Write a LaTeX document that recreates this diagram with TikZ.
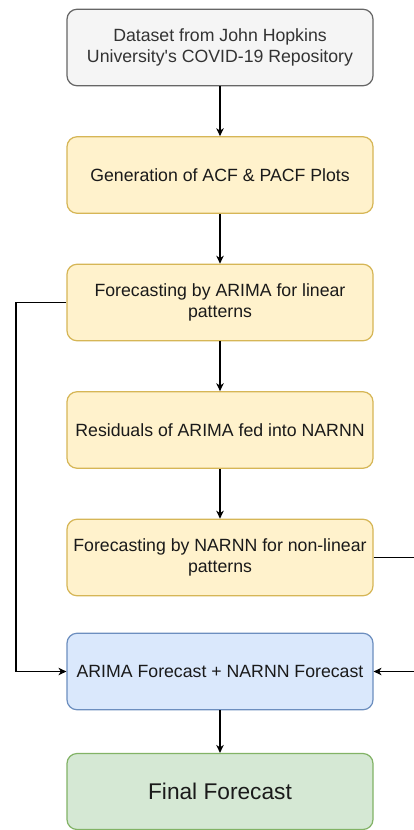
\documentclass[tikz,border=0pt]{standalone}
\usepackage{fontspec}
\setmainfont{Liberation Sans}[Ligatures=TeXOff]
\usetikzlibrary{arrows.meta}
\definecolor{grayfill}{HTML}{F5F5F5}
\definecolor{graydraw}{HTML}{666666}
\definecolor{graytext}{HTML}{333333}
\definecolor{yelfill}{HTML}{FFF2CC}
\definecolor{yeldraw}{HTML}{D6B656}
\definecolor{bluefill}{HTML}{DAE8FC}
\definecolor{bluedraw}{HTML}{6C8EBF}
\definecolor{greenfill}{HTML}{D5E8D4}
\definecolor{greendraw}{HTML}{82B366}
\definecolor{txt}{HTML}{1A1A1A}
\tikzset{
  box/.style={rectangle, rounded corners=10pt, minimum width=306pt, minimum height=76.5pt,
    inner sep=0pt, align=center, line width=1.2pt, text=txt,
    font=\fontsize{17.7}{21}\selectfont},
  graybox/.style={box, fill=grayfill, draw=graydraw, text=graytext},
  yelbox/.style={box, fill=yelfill, draw=yeldraw},
  bluebox/.style={box, fill=bluefill, draw=bluedraw},
  greenbox/.style={box, fill=greenfill, draw=greendraw, font=\fontsize{22.7}{26}\selectfont},
  arr/.style={line width=1.2pt, draw=black, -{Stealth[length=8pt,width=7.5pt,inset=2.5pt]}}
}
\begin{document}
\begin{tikzpicture}[x=1pt,y=-1pt]
\useasboundingbox (0,0) rectangle (414,830);
\clip (0,0) rectangle (414,830);
\fill[white] (0,0) rectangle (414,830);
\node[graybox] (n1) at (220,47.5) {Dataset from John Hopkins\\University's COVID-19 Repository};
\node[yelbox] (n2) at (220,175) {Generation of ACF \& PACF Plots};
\node[yelbox] (n3) at (220,302.5) {Forecasting by ARIMA for linear\\patterns};
\node[yelbox] (n4) at (220,430) {Residuals of ARIMA fed into NARNN};
\node[yelbox] (n5) at (220,557.5) {Forecasting by NARNN for non-linear\\patterns};
\node[bluebox] (n6) at (220,671.5) {ARIMA Forecast + NARNN Forecast};
\node[greenbox, minimum height=76pt] (n7) at (220,791.5) {Final Forecast};
\coordinate (lc) at (16,0);
\coordinate (rc) at (440,0);
\draw[arr] (n1) -- (n2);
\draw[arr] (n2) -- (n3);
\draw[arr] (n3) -- (n4);
\draw[arr] (n4) -- (n5);
\draw[arr] (n6) -- (n7);
\draw[arr] (n3.west) -- (n3.west -| lc) -- (n6.west -| lc) -- (n6.west);
\draw[arr] (n5.east) -- (n5.east -| rc) -- (n6.east -| rc) -- (n6.east);
\end{tikzpicture}
\end{document}
